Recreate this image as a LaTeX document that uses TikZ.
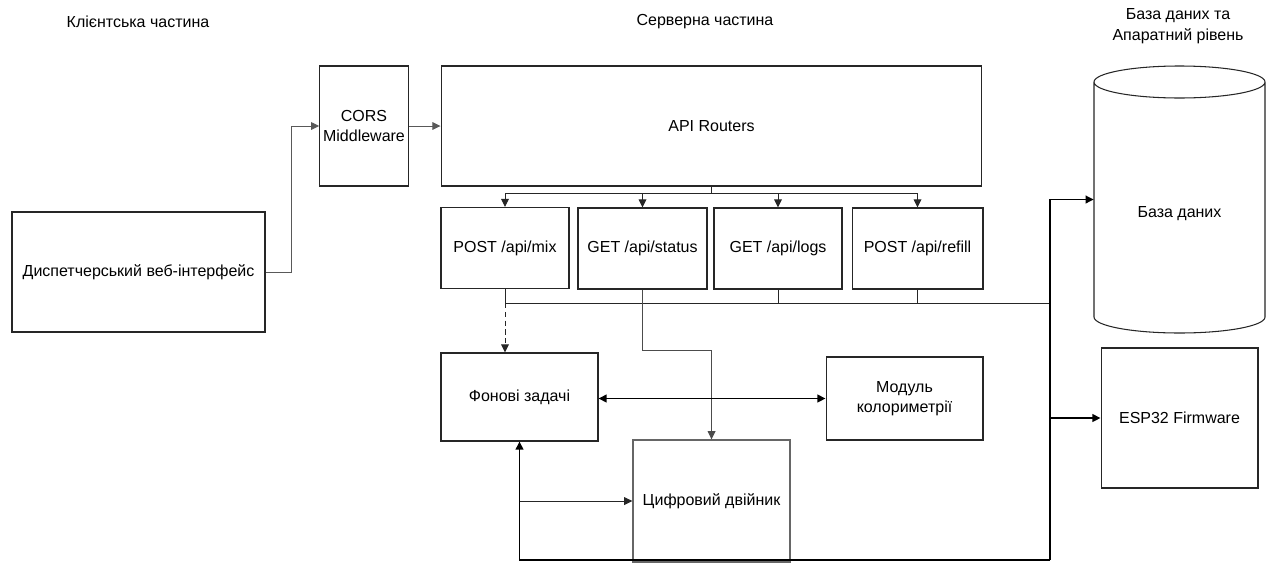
\documentclass[tikz,border=0pt]{standalone}
\usepackage{fontspec}
\setmainfont{Liberation Sans}
\usetikzlibrary{arrows.meta,calc}
\begin{document}
\begin{tikzpicture}[x=0.02cm,y=-0.02cm,
  font=\fontsize{9.1}{11}\selectfont,
  box/.style={draw=black!85,line width=0.6pt,fill=white,align=center,inner sep=2pt},
  link/.style={draw=black!85,line width=0.55pt,-{Triangle[length=4.6pt,width=4.4pt]}},
  line/.style={draw=black!85,line width=0.55pt},
  heavy/.style={draw=black,line width=0.9pt},
  hlink/.style={heavy,-{Triangle[length=4.6pt,width=4.4pt]}},
  title/.style={align=center}]
\useasboundingbox (0,0) rectangle (1270,565);

% section titles
\node[title] (tclient) at (138,22) {Клієнтська частина};
\node[title] (tserver) at (705,22) {Серверна частина};
\node[title] (thw) at (1178,26) {База даних та\\[1pt]Апаратний рівень};

% client side
\node[box,minimum width=5.06cm,minimum height=2.4cm] (disp) at (138.5,272) {Диспетчерський веб-інтерфейс};

% server side
\node[box,minimum width=1.76cm,minimum height=2.4cm] (cors) at (364,126) {CORS\\Middleware};
\node[box,minimum width=10.82cm,minimum height=2.4cm] (api) at (711.5,126) {API Routers};

\node[box,minimum width=2.56cm,minimum height=1.62cm] (mix) at (505,248) {POST /api/mix};
\node[box,minimum width=2.58cm,minimum height=1.62cm] (status) at (642.5,248.5) {GET /api/status};
\node[box,minimum width=2.56cm,minimum height=1.62cm] (logs) at (778,248.5) {GET /api/logs};
\node[box,minimum width=2.62cm,minimum height=1.62cm] (refill) at (917.5,248.5) {POST /api/refill};

\node[box,minimum width=3.14cm,minimum height=1.76cm] (bg) at (519.5,397) {Фонові задачі};
\node[box,minimum width=3.14cm,minimum height=1.66cm] (color) at (904.5,398.5) {Модуль\\колориметрії};
\node[box,draw=black!60,line width=0.8pt,minimum width=3.14cm,minimum height=2.44cm] (twin) at (711.5,501) {Цифровий двійник};

% database cylinder and hardware
\draw[line width=0.6pt,draw=black!85,fill=white]
  (1094,82) -- (1094,317) arc[start angle=180,end angle=360,x radius=85.5,y radius=-16]
  -- (1265,82) arc[start angle=0,end angle=180,x radius=85.5,y radius=-16]
  arc[start angle=180,end angle=360,x radius=85.5,y radius=-16];
\node[minimum width=3.42cm,minimum height=4.7cm,inner sep=0pt] (db) at (1179.5,199.5) {};
\node (dblabel) at (1179.5,214) {База даних};
\node[box,minimum width=3.14cm,minimum height=2.8cm] (esp) at (1179.5,418) {ESP32 Firmware};

% client -> CORS -> routers
\draw[link,draw=black!65] (disp.east) -| ([xshift=-0.56cm]cors.west) -- (cors.west);
\draw[link,draw=black!65] (cors.east) -- (api.west);

% routers fan out to endpoints
\coordinate (split) at (711.5,193);
\draw[line] (api.south) -- (split);
\draw[link] (split) -| (mix.north);
\draw[link] (split) -| (status.north);
\draw[link] (split) -| (logs.north);
\draw[link] (split) -| (refill.north);

% shared bus to the storage trunk
\coordinate (busR) at (1050,303);
\draw[line] (mix.south) |- (busR);
\draw[line] (logs.south) -- (logs.south |- busR);
\draw[line] (refill.south) -- (refill.south |- busR);
\draw[link,dashed,dash pattern=on 3pt off 2pt] (mix.south |- busR) -- (mix.south |- bg.north);

% status endpoint reads the digital twin
\coordinate (sbend) at (642.5,350);
\draw[link,draw=black!70] (status.south) -- (sbend) -| (twin.north);

% background tasks <-> colorimetry
\draw[heavy,{Triangle[length=4.6pt,width=4.4pt]}-{Triangle[length=4.6pt,width=4.4pt]}] (bg.east |- color.west) -- (color.west);

% trunk loop along the bottom and up to storage / firmware
\coordinate (bl) at (519.5,560);
\coordinate (br) at (1050,560);
\draw[hlink] (br) -- (bl) -- (bg.south);
\draw[hlink] (br) |- (db.west);
\draw[hlink] (esp.west -| br) -- (esp.west);
\draw[link] (bg.south |- twin.west) -- (twin.west);
\end{tikzpicture}
\end{document}
